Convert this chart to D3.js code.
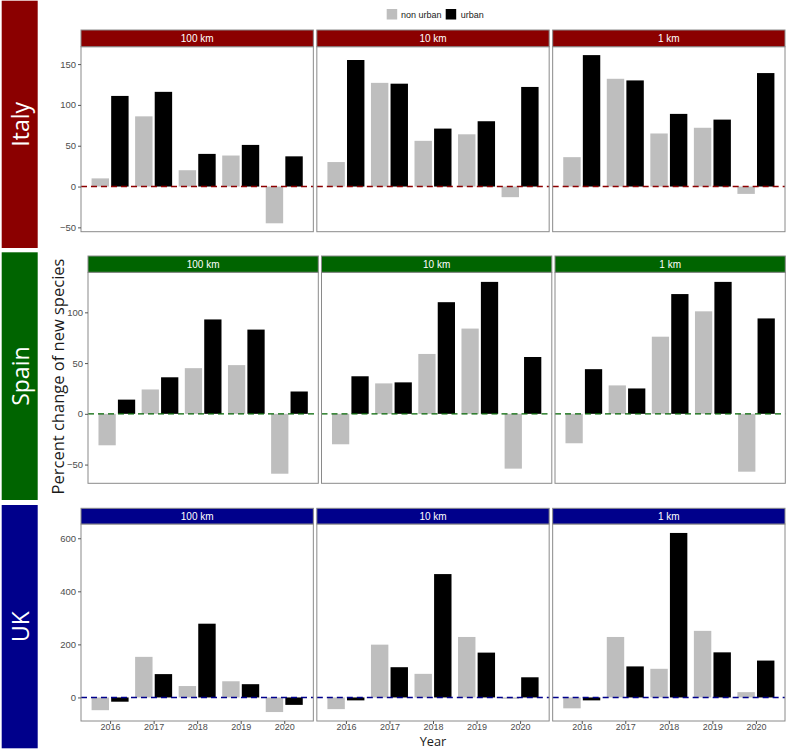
<!DOCTYPE html>
<html>
<head>
<meta charset="utf-8">
<script src="https://cdn.jsdelivr.net/npm/d3@7"></script>
<style>
  body { margin: 0; background: #fff; }
  svg { display: block; }
</style>
</head>
<body>
<svg id="chart" width="790" height="750"></svg>
<script>
// ---------- data ----------
const years = ["2016", "2017", "2018", "2019", "2020"];
const distances = ["100 km", "10 km", "1 km"];
const countries = ["Italy", "Spain", "UK"];
const groups = ["non urban", "urban"];

const italy_100_nonurban = [10, 86, 20, 38, -45];
const italy_100_urban    = [111, 116, 40, 51, 37];
const italy_10_nonurban  = [30, 127, 56, 64, -13];
const italy_10_urban     = [155, 126, 71, 80, 122];
const italy_1_nonurban   = [36, 132, 65, 72, -9];
const italy_1_urban      = [161, 130, 89, 82, 139];

const spain_100_nonurban = [-31, 24, 45, 48, -59];
const spain_100_urban    = [14, 36, 93, 83, 22];
const spain_10_nonurban  = [-30, 30, 59, 84, -54];
const spain_10_urban     = [37, 31, 110, 130, 56];
const spain_1_nonurban   = [-29, 28, 76, 101, -57];
const spain_1_urban      = [44, 25, 118, 130, 94];

const uk_100_nonurban = [-48, 153, 43, 61, -55];
const uk_100_urban    = [-16, 88, 278, 50, -28];
const uk_10_nonurban  = [-44, 199, 89, 228, -5];
const uk_10_urban     = [-11, 114, 465, 169, 76];
const uk_1_nonurban   = [-41, 228, 108, 251, 20];
const uk_1_urban      = [-11, 117, 620, 170, 139];

const seriesByCountry = {
  Italy: [[italy_100_nonurban, italy_100_urban], [italy_10_nonurban, italy_10_urban], [italy_1_nonurban, italy_1_urban]],
  Spain: [[spain_100_nonurban, spain_100_urban], [spain_10_nonurban, spain_10_urban], [spain_1_nonurban, spain_1_urban]],
  UK:    [[uk_100_nonurban, uk_100_urban], [uk_10_nonurban, uk_10_urban], [uk_1_nonurban, uk_1_urban]]
};

// ---------- styling / layout ----------
const rowColors = { Italy: "#8B0000", Spain: "#006400", UK: "#00008B" };
const groupColors = { "non urban": "#BEBEBE", "urban": "#000000" };
const borderColor = "#8a8a8a";
const tickTextColor = "#4d4d4d";
const tickFont = "'Liberation Sans', Arial, sans-serif";
const titleFont = "'Open Sans', 'Noto Sans', sans-serif";

const rows = {
  Italy: { bandTop: 0.7, bandBottom: 248, left: 81, right: 785, gap: 3.5, stripTop: 30, panelTop: 46.7, panelBottom: 231.7, xLabels: false },
  Spain: { bandTop: 252.3, bandBottom: 500, left: 88, right: 785.3, gap: 3.2, stripTop: 256, panelTop: 272.3, panelBottom: 483.3, xLabels: false },
  UK:    { bandTop: 505, bandBottom: 748.3, left: 81, right: 785, gap: 3.5, stripTop: 508.3, panelTop: 524, panelBottom: 721, xLabels: true }
};

const svg = d3.select("#chart");

// ---------- legend ----------
const legend = svg.append("g");
const legendItems = [
  { g: "non urban", x: 386.7, tx: 401 },
  { g: "urban", x: 445.7, tx: 460.7 }
];
legendItems.forEach(it => {
  legend.append("rect").attr("x", it.x).attr("y", 9).attr("width", 10.5).attr("height", 10.5)
    .attr("fill", groupColors[it.g]);
  legend.append("text").attr("x", it.tx).attr("y", 14.5).attr("dominant-baseline", "central")
    .attr("font-family", tickFont).attr("font-size", 9).attr("fill", "#1a1a1a").text(it.g);
});

// ---------- rows ----------
countries.forEach(country => {
  const L = rows[country];
  const color = rowColors[country];
  const series = seriesByCountry[country];

  // row label band
  svg.append("rect").attr("x", 1.7).attr("y", L.bandTop).attr("width", 36).attr("height", L.bandBottom - L.bandTop)
    .attr("fill", color);
  const cy = (L.bandTop + L.bandBottom) / 2;
  svg.append("text")
    .attr("transform", `translate(20,${cy}) rotate(-90)`)
    .attr("text-anchor", "middle").attr("dominant-baseline", "central")
    .attr("font-family", titleFont).attr("font-size", 23).attr("fill", "#fff")
    .text(country);

  // y scale: ggplot-like 5% expansion of data range
  const all = series.flat(2);
  const mn = Math.min(0, d3.min(all)), mx = Math.max(0, d3.max(all));
  const pad = (mx - mn) * 0.05;
  const y = d3.scaleLinear().domain([mn - pad, mx + pad]).range([L.panelBottom, L.panelTop]);

  const pw = (L.right - L.left - 2 * L.gap) / 3;

  distances.forEach((dist, di) => {
    const x0 = L.left + di * (pw + L.gap);
    const x = d3.scalePoint().domain(years).range([x0, x0 + pw]).padding(0.668);
    const step = x.step();
    const g = svg.append("g");

    g.append("rect").attr("x", x0).attr("y", L.panelTop).attr("width", pw).attr("height", L.panelBottom - L.panelTop)
      .attr("fill", "#fff");

    // bars
    groups.forEach((grp, gi) => {
      const vals = series[di][gi];
      const off = (gi === 0 ? -0.225 : 0.225) * step;
      const bw = 0.4 * step;
      g.selectAll(null).data(years.map((yr, i) => ({ yr, v: vals[i] })))
        .enter().append("rect")
        .attr("x", d => x(d.yr) + off - bw / 2)
        .attr("width", bw)
        .attr("y", d => y(Math.max(0, d.v)))
        .attr("height", d => Math.abs(y(d.v) - y(0)))
        .attr("fill", groupColors[grp]);
    });

    // zero line
    g.append("line").attr("x1", x0).attr("x2", x0 + pw).attr("y1", y(0)).attr("y2", y(0))
      .attr("stroke", color).attr("stroke-width", 1.4).attr("stroke-dasharray", "6,4");

    // panel border
    g.append("rect").attr("x", x0).attr("y", L.panelTop).attr("width", pw).attr("height", L.panelBottom - L.panelTop)
      .attr("fill", "none").attr("stroke", borderColor).attr("stroke-width", 1);

    // strip
    g.append("rect").attr("x", x0).attr("y", L.stripTop).attr("width", pw).attr("height", L.panelTop - L.stripTop)
      .attr("fill", color).attr("stroke", borderColor).attr("stroke-width", 1);
    g.append("text").attr("x", x0 + pw / 2).attr("y", (L.stripTop + L.panelTop) / 2 + 0.3)
      .attr("text-anchor", "middle").attr("dominant-baseline", "central")
      .attr("font-family", tickFont).attr("font-size", 10).attr("fill", "#fff").text(dist);

    // y axis on first panel
    if (di === 0) {
      const yAxis = d3.axisLeft(y).ticks(5).tickSize(3).tickPadding(2);
      const ag = svg.append("g").attr("transform", `translate(${x0},0)`).call(yAxis);
      ag.select(".domain").remove();
      ag.selectAll(".tick line").attr("stroke", "#555");
      ag.selectAll(".tick text").attr("font-family", tickFont).attr("font-size", 9.5).attr("fill", tickTextColor);
    }

    // x axis on bottom row
    if (L.xLabels) {
      const xAxis = d3.axisBottom(x).tickSize(3).tickPadding(0);
      const ag = svg.append("g").attr("transform", `translate(0,${L.panelBottom})`).call(xAxis);
      ag.select(".domain").remove();
      ag.selectAll(".tick line").attr("stroke", "#555");
      ag.selectAll(".tick text").attr("font-family", tickFont).attr("font-size", 9).attr("fill", tickTextColor);
    }
  });
});

// ---------- axis titles ----------
svg.append("text")
  .attr("transform", "translate(57,376.5) rotate(-90)")
  .attr("text-anchor", "middle").attr("dominant-baseline", "central")
  .attr("font-family", titleFont).attr("font-size", 16.5).attr("fill", "#1a1a1a")
  .text("Percent change of new species");

svg.append("text")
  .attr("x", 433).attr("y", 746)
  .attr("text-anchor", "middle")
  .attr("font-family", titleFont).attr("font-size", 12.8).attr("fill", "#1a1a1a")
  .text("Year");
</script>
</body>
</html>
